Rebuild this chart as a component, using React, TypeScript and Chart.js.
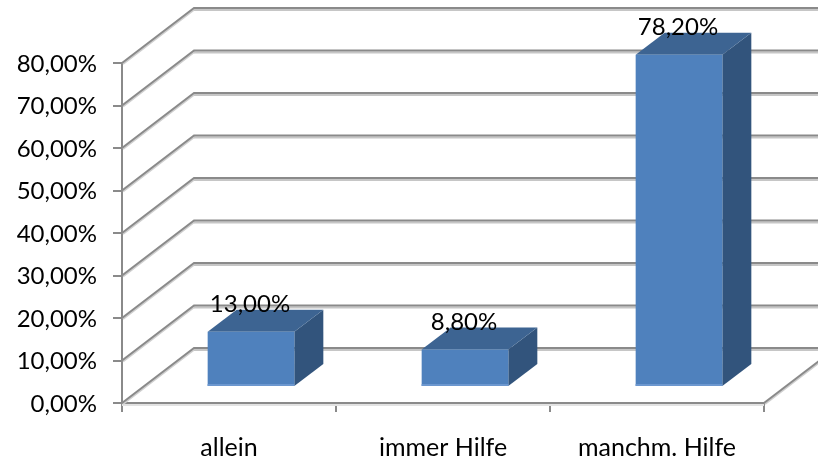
import React, { useEffect, useRef } from "react";
import { Chart, registerables } from "chart.js";

Chart.register(...registerables);

const categories = ["allein", "immer Hilfe", "manchm. Hilfe"];
const shares = [13.0, 8.8, 78.2];
const axisMax = 80;
const axisStep = 10;

const FONT = "Lato";
const FONT_SIZE = 24;
const wall = { dx: 72, dy: -55 };
const barFront = { dx: 22, dy: -16 };
const barDepth = { dx: 29, dy: -22 };

const pct = (v: number) => v.toFixed(2).replace(".", ",") + "%";

function seg(ctx: CanvasRenderingContext2D, pts: number[][], color: string, width: number) {
  ctx.beginPath();
  ctx.strokeStyle = color;
  ctx.lineWidth = width;
  pts.forEach(([x, y], i) => (i ? ctx.lineTo(x, y) : ctx.moveTo(x, y)));
  ctx.stroke();
}

function poly(ctx: CanvasRenderingContext2D, pts: number[][], color: string) {
  ctx.beginPath();
  ctx.fillStyle = color;
  pts.forEach(([x, y], i) => (i ? ctx.lineTo(x, y) : ctx.moveTo(x, y)));
  ctx.closePath();
  ctx.fill();
}

const walls3d = {
  id: "walls3d",
  beforeDatasetsDraw(chart: any) {
    const { ctx, chartArea, scales } = chart;
    const { left, right, bottom } = chartArea;
    ctx.save();
    seg(ctx, [[left, bottom + 2], [right, bottom + 2]], "#e2e2e2", 2);
    scales.y.ticks.forEach((t: any) => {
      const y = scales.y.getPixelForValue(t.value);
      const bx = left + wall.dx;
      const by = y + wall.dy;
      seg(ctx, [[left + 1, y + 1], [bx + 1, by + 1]], "#cfcfcf", 2);
      seg(ctx, [[bx, by + 2], [right + wall.dx, by + 2]], "#c6c6c6", 2);
      seg(ctx, [[left, y], [bx, by], [right + wall.dx, by]], "#8a8a8a", 2);
    });
    const y0 = scales.y.getPixelForValue(0);
    seg(ctx, [[right + 1, y0 + 1], [right + wall.dx + 1, y0 + wall.dy + 1]], "#cfcfcf", 2);
    seg(ctx, [[right, y0], [right + wall.dx, y0 + wall.dy]], "#8a8a8a", 2);
    ctx.restore();
  },
  beforeDatasetDraw(chart: any, args: any) {
    const { ctx } = chart;
    ctx.save();
    ctx.translate(barFront.dx, barFront.dy);
    args.meta.data.forEach((b: any) => {
      const r = b.x + b.width / 2;
      const l = b.x - b.width / 2;
      const { dx, dy } = barDepth;
      poly(ctx, [[r, b.y], [r + dx, b.y + dy], [r + dx, b.base + dy], [r, b.base]], "#32547c");
      poly(ctx, [[l, b.y], [l + dx, b.y + dy], [r + dx, b.y + dy], [r, b.y]], "#3d6492");
    });
  },
  afterDatasetDraw(chart: any, args: any) {
    const { ctx } = chart;
    args.meta.data.forEach((b: any) => {
      ctx.fillStyle = "#6c97cf";
      ctx.fillRect(b.x - b.width / 2, b.base - 2, b.width, 2);
    });
    ctx.restore();
  },
  afterDatasetsDraw(chart: any) {
    const { ctx } = chart;
    const meta = chart.getDatasetMeta(0);
    ctx.save();
    ctx.fillStyle = "#000";
    ctx.font = `${FONT_SIZE}px ${FONT}`;
    ctx.textAlign = "center";
    ctx.textBaseline = "middle";
    meta.data.forEach((b: any, i: number) => {
      ctx.fillText(pct(shares[i]), b.x + barFront.dx - 1, b.y + barFront.dy - 27);
    });
    ctx.restore();
  },
};

export default function App() {
  const ref = useRef<HTMLCanvasElement>(null);
  useEffect(() => {
    const chart = new Chart(ref.current!, {
      type: "bar",
      data: {
        labels: categories,
        datasets: [{ data: shares, backgroundColor: "#4f81bd", borderWidth: 0, barPercentage: 0.405, categoryPercentage: 1 }],
      },
      options: {
        animation: false,
        responsive: false,
        devicePixelRatio: 1,
        layout: { padding: { top: 63, right: 54, left: 0, bottom: 0 } },
        plugins: { legend: { display: false }, title: { display: false }, tooltip: { enabled: false } },
        scales: {
          x: {
            afterFit: (s: any) => { s.height = 59; },
            grid: { drawOnChartArea: false, color: "#8a8a8a", lineWidth: 2, tickLength: 9, offset: true },
            border: { color: "#8a8a8a", width: 2 },
            ticks: { color: "#000", padding: 21, font: { family: FONT, size: 25 }, maxRotation: 0 },
          },
          y: {
            min: 0,
            max: axisMax,
            afterFit: (s: any) => { s.width = 122; },
            grid: { drawOnChartArea: false, color: "#8a8a8a", lineWidth: 2, tickLength: 9 },
            border: { color: "#8a8a8a", width: 2 },
            ticks: { stepSize: axisStep, color: "#000", padding: 16, labelOffset: 1, font: { family: FONT, size: FONT_SIZE }, callback: (v: any) => pct(Number(v)) },
          },
        },
      },
      plugins: [walls3d],
    } as any);
    return () => chart.destroy();
  }, []);
  return (
    <div style={{ position: "absolute", left: 0, top: 0, width: 818, height: 462, background: "#fff" }}>
      <canvas ref={ref} width={818} height={462} style={{ display: "block" }} />
    </div>
  );
}
